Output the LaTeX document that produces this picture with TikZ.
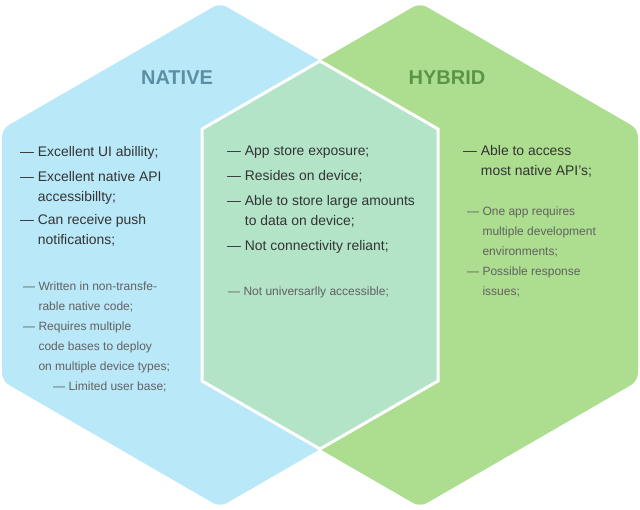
\documentclass[tikz,border=0pt]{standalone}
\usepackage{fontspec}
\setmainfont{Liberation Sans}
\usepackage{tikz}
\usetikzlibrary{positioning}
\definecolor{natblue}{RGB}{185,232,248}
\definecolor{hybgreen}{RGB}{173,222,143}
\definecolor{mixmint}{RGB}{179,228,200}
\definecolor{natttl}{RGB}{92,142,164}
\definecolor{hybttl}{RGB}{92,148,70}
\tikzset{
  hexa/.style  = {rounded corners=8pt},
  ttl/.style   = {font=\fontsize{20}{24}\selectfont\bfseries, inner sep=0pt},
  pro/.style   = {anchor=north west, align=left, inner sep=0pt, text=black!80,
                  font=\fontsize{13.9}{20}\selectfont},
  con/.style   = {anchor=north west, align=left, inner sep=0pt, text=black!62,
                  font=\fontsize{12}{20}\selectfont},
}

\begin{document}
\begin{tikzpicture}[x=1pt, y=-1pt]
    \useasboundingbox (0,0) rectangle (640,510);

    % the two sets and their overlap
    \fill[natblue, hexa]  (220,3) -- (438,129) -- (438,381) -- (220,507) -- (2,381) -- (2,129) -- cycle;
    \fill[hybgreen, hexa] (420,3) -- (638,129) -- (638,381) -- (420,507) -- (202,381) -- (202,129) -- cycle;
    \filldraw[fill=mixmint, draw=white, line width=3pt]
        (320,61) -- (438,129) -- (438,381) -- (320,449) -- (202,381) -- (202,129) -- cycle;

    \node[ttl, text=natttl] (native) at (177,78) {NATIVE};
    \node[ttl, text=hybttl] (hybrid) at (447,78) {HYBRID};

    % native only
    \node[pro] (nat1) at (20,146) {— Excellent UI abillity;};
    \node[pro] (nat2) at (20,171) {— Excellent native API\\\phantom{— }accessibillty;};
    \node[pro] (nat3) at (20,214) {— Can receive push\\\phantom{— }notifications;};
    \node[con] (nat4) at (23,282) {— Written in non-transfe-\\\phantom{— }rable native code;};
    \node[con] (nat5) at (23,322) {— Requires multiple\\\phantom{— }code bases to deploy\\\phantom{— }on multiple device types;};
    \node[con] (nat6) at (53,382) {— Limited user base;};

    % both
    \node[pro] (mix1) at (227,146) {— App store exposure;};
    \node[pro] (mix2) at (227,170) {— Resides on device;};
    \node[pro] (mix3) at (227,195) {— Able to store large amounts\\\phantom{— }to data on device;};
    \node[pro] (mix4) at (227,240) {— Not connectivity reliant;};
    \node[con] (mix5) at (228,287) {— Not universarlly accessible;};

    % hybrid only
    \node[pro] (hyb1) at (463,145) {— Able to access\\\phantom{— }most native API’s;};
    \node[con] (hyb2) at (467,207) {— One app requires\\\phantom{— }multiple development\\\phantom{— }environments;};
    \node[con] (hyb3) at (467,267) {— Possible response\\\phantom{— }issues;};
\end{tikzpicture}
\end{document}
